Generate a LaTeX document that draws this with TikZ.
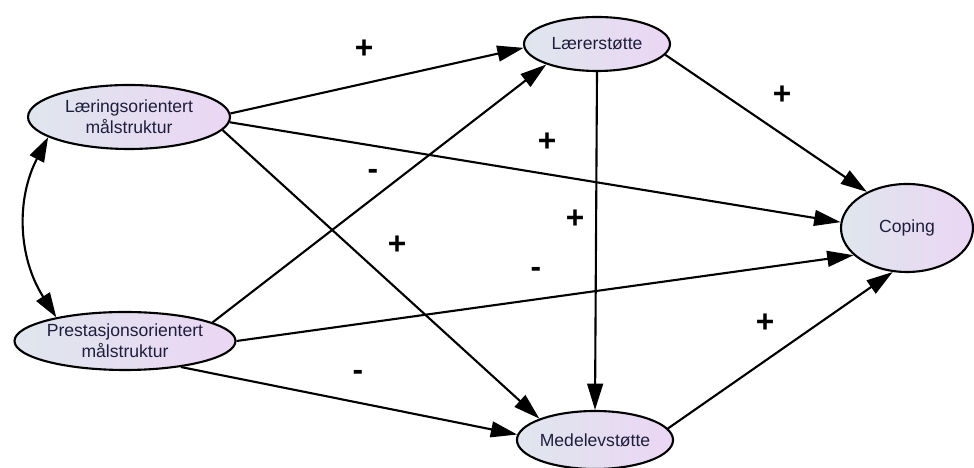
\documentclass[tikz,border=0pt]{standalone}
\usepackage{fontspec}
\setmainfont{Liberation Sans}
\usetikzlibrary{arrows.meta}
\usetikzlibrary{shapes.geometric}

\definecolor{varleft}{HTML}{DFE6EE}
\definecolor{varright}{HTML}{EBD6F3}
\definecolor{vartext}{HTML}{1E1E3C}

\tikzset{
  varnode/.style={ellipse, draw=black, line width=1.2pt, inner sep=0pt,
    left color=varleft, right color=varright, text=vartext,
    font=\fontsize{10}{12}\selectfont, align=center},
  pathline/.style={line width=1.2pt, -{Triangle[length=15pt, width=9pt]}},
  covline/.style={line width=1.2pt, {Triangle[length=14pt, width=9pt]}-{Triangle[length=14pt, width=9pt]}},
  signlabel/.style={font=\fontsize{18}{18}\selectfont\bfseries}
}

\begin{document}
\begin{tikzpicture}

% Picture size
\useasboundingbox (0,0) rectangle (19.48,9.36);

% Variables
\node[varnode, minimum width=4.04cm, minimum height=1.28cm] (laering) at (2.58,7.02) {Læringsorientert\\målstruktur};
\node[varnode, minimum width=4.22cm, minimum height=1.16cm] (prestasjon) at (2.5,2.54) {Prestasjonsorientert\\målstruktur};
\node[varnode, minimum width=2.92cm, minimum height=1.08cm] (laerer) at (11.94,8.48) {Lærerstøtte};
\node[varnode, minimum width=3.08cm, minimum height=1.16cm] (medelev) at (11.9,0.56) {Medelevstøtte};
\node[varnode, minimum width=2.64cm, minimum height=1.76cm] (coping) at (18.14,4.8) {Coping};

% Paths from Læringsorientert målstruktur
\draw[pathline] (laering.2) -- (laerer.183);
\draw[pathline] (laering.-3) -- (coping.175);
\draw[pathline] (laering.-8) -- (medelev.159);

% Paths from Prestasjonsorientert målstruktur
\draw[pathline] (prestasjon.12) -- (laerer.202);
\draw[pathline] (prestasjon.0) -- (coping.207);
\draw[pathline] (prestasjon.-25) -- (medelev.176);

% Paths to Coping
\draw[pathline] (laerer.-9) -- (coping.138);
\draw[pathline] (laerer.-90) -- (medelev.90);
\draw[pathline] (medelev.9) -- (coping.252);

% Covariance
\draw[covline] (laering.194) to[bend right=30] (prestasjon.161);

% Signs
\node[signlabel] (s1) at (7.28,8.38) {+};
\node[signlabel] (s2) at (10.94,6.52) {+};
\node[signlabel] (s3) at (7.94,4.46) {+};
\node[signlabel] (s4) at (7.46,5.88) {-};
\node[signlabel] (s5) at (10.72,3.92) {-};
\node[signlabel] (s6) at (7.16,1.86) {-};
\node[signlabel] (s7) at (15.64,7.46) {+};
\node[signlabel] (s8) at (11.5,4.98) {+};
\node[signlabel] (s9) at (15.3,2.9) {+};

\end{tikzpicture}
\end{document}
